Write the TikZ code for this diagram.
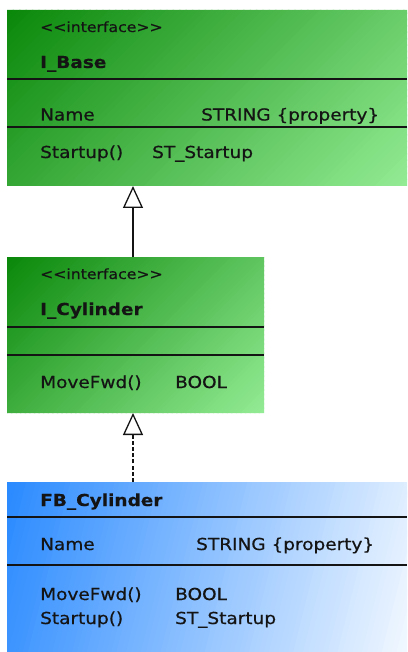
\documentclass[tikz,border=0pt]{standalone}
\usepackage{fontspec}
\setmainfont{DejaVu Sans}[FakeStretch=1.12, UprightFeatures={FakeBold=0.6}, BoldFeatures={FakeBold=0.3}]
\usetikzlibrary{arrows.meta}
\definecolor{gdark}{HTML}{0A880A}
\definecolor{glight}{HTML}{94EC94}
\definecolor{bdark}{HTML}{2A8AFF}
\definecolor{blight}{HTML}{F2F8FF}
\definecolor{ink}{HTML}{141414}
\tikzset{
  classbox/.style={anchor=north west, inner sep=0pt, outer sep=0pt},
  divider/.style={line width=2pt, draw=ink},
  txt/.style={anchor=base west, inner sep=0pt, font=\fontsize{16.5}{18}\selectfont, text=ink},
  stereo/.style={txt, font=\fontsize{14}{16}\selectfont},
  cname/.style={txt, font=\fontsize{16.5}{18}\selectfont\bfseries},
  gen/.style={line width=1.3pt, draw=ink, -{Triangle[open, width=20pt, length=22pt, line width=1.3pt]}},
  realize/.style={gen, dash pattern=on 4pt off 2.2pt},
}
% diagonal gradient fill: x0, y0, W, H, k, colour1, colour2
\newcommand{\gradfill}[7]{%
  \begin{scope}
    \clip (#1,#2) rectangle ++(#3,#4);
    \pgfmathsetmacro\dt{(#3+#5*#4)/90}
    \pgfmathsetmacro\sh{#5*#4}
    \foreach \i in {0,...,89}{
      \pgfmathsetmacro\ca{#1+\dt*\i-0.7}
      \pgfmathsetmacro\cb{#1+\dt*\i+\dt+0.7}
      \pgfmathtruncatemacro\p{(\i+0.5)*100/90}
      \fill[#7!\p!#6] (\ca,#2) -- (\cb,#2) -- (\cb-\sh,#2+#4) -- (\ca-\sh,#2+#4) -- cycle;
    }
  \end{scope}}
\begin{document}
\begin{tikzpicture}[x=1pt,y=-1pt]
\useasboundingbox (0,0) rectangle (407,652);
% box backgrounds
\gradfill{7}{10}{400}{176}{1}{gdark}{glight}
\gradfill{7}{257}{257}{156}{1}{gdark}{glight}
\gradfill{7}{482}{400}{170}{0.25}{bdark}{blight}
% boxes
\node[classbox, minimum width=400pt, minimum height=176pt] (base) at (7,10) {};
\node[classbox, minimum width=257pt, minimum height=156pt] (cyl) at (7,257) {};
\node[classbox, minimum width=400pt, minimum height=170pt] (fb) at (7,482) {};
% dividers
\draw[divider] ([yshift=-69.5pt]base.north west) -- ([yshift=-69.5pt]base.north east);
\draw[divider] ([yshift=-117.5pt]base.north west) -- ([yshift=-117.5pt]base.north east);
\draw[divider] ([yshift=-69.5pt]cyl.north west) -- ([yshift=-69.5pt]cyl.north east);
\draw[divider] ([yshift=-97.5pt]cyl.north west) -- ([yshift=-97.5pt]cyl.north east);
\draw[divider] ([yshift=-34.7pt]fb.north west) -- ([yshift=-34.7pt]fb.north east);
\draw[divider] ([yshift=-83pt]fb.north west) -- ([yshift=-83pt]fb.north east);
% texts box 1
\node[stereo] (s1) at (40,32) {<\kern0pt<interface>\kern0pt>};
\node[cname] (n1) at (40,68) {I\_Base};
\node[txt] (a1) at (40,120.5) {Name};
\node[txt] (a1t) at (201,120.5) {STRING \{property\}};
\node[txt] (o1) at (40,158) {Startup()};
\node[txt] (o1t) at (152,158) {ST\_Startup};
% texts box 2
\node[stereo] (s2) at (40,279) {<\kern0pt<interface>\kern0pt>};
\node[cname] (n2) at (40,315) {I\_Cylinder};
\node[txt] (o2) at (40,388) {MoveFwd()};
\node[txt] (o2t) at (175,388) {BOOL};
% texts box 3
\node[cname] (n3) at (40,506) {FB\_Cylinder};
\node[txt] (a3) at (40,550) {Name};
\node[txt] (a3t) at (196,550) {STRING \{property\}};
\node[txt] (o3) at (40,600) {MoveFwd()};
\node[txt] (o3t) at (175,600) {BOOL};
\node[txt] (o4) at (40,624) {Startup()};
\node[txt] (o4t) at (175,624) {ST\_Startup};
% connectors
\coordinate (ax) at (133,0);
\draw[gen] (cyl.north -| ax) -- (base.south -| ax);
\draw[realize] (fb.north -| ax) -- (cyl.south -| ax);
\end{tikzpicture}
\end{document}
